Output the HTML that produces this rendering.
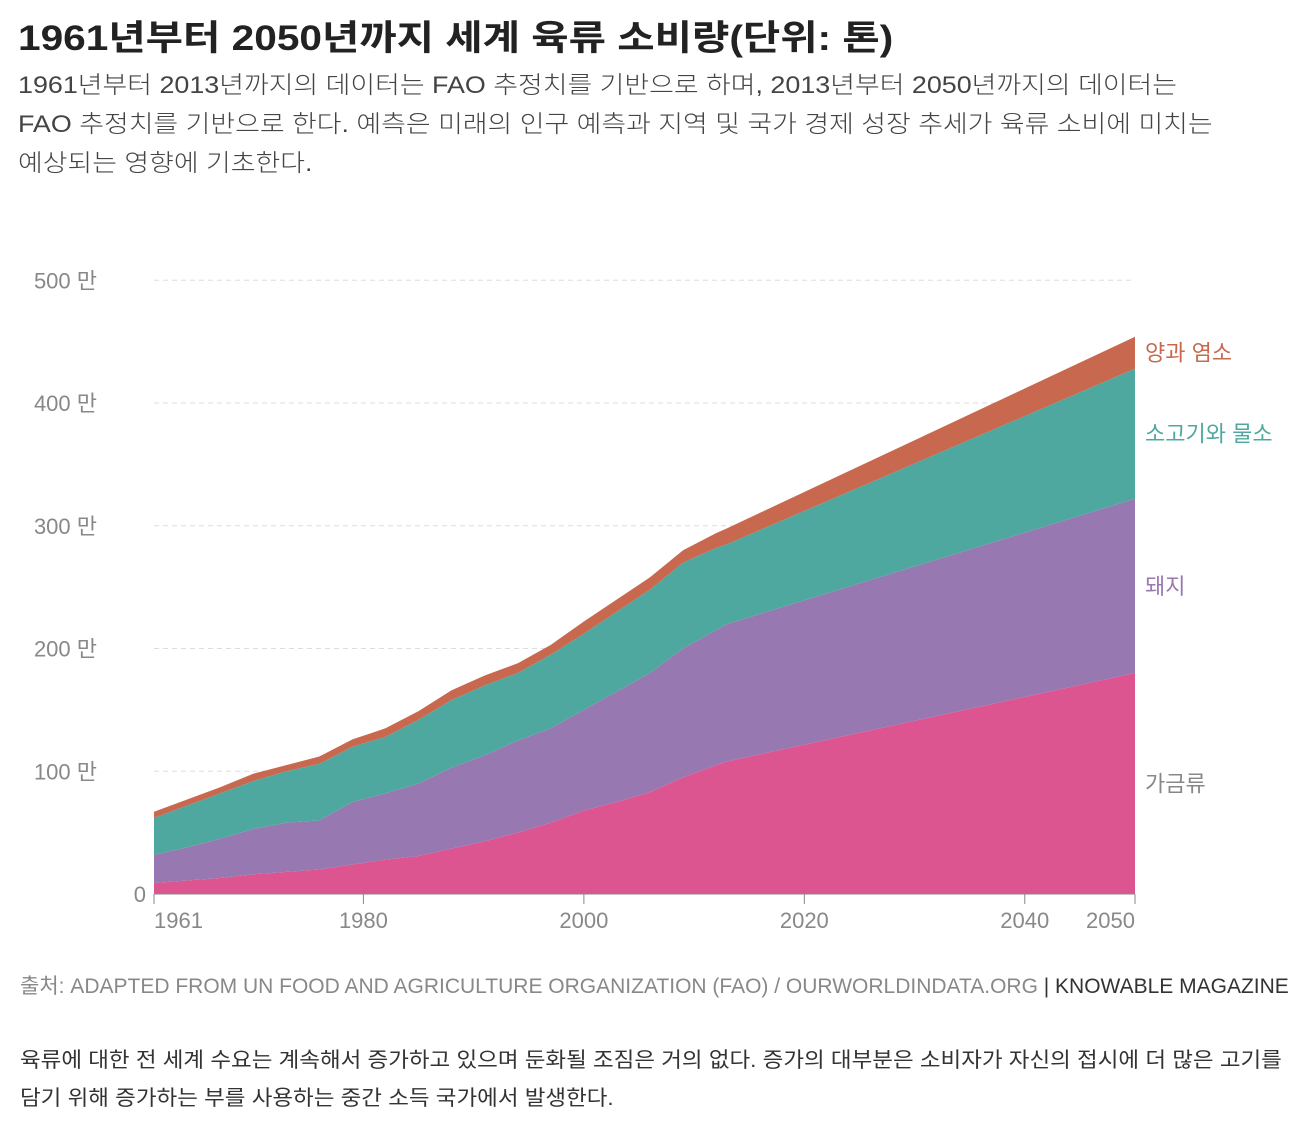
<!DOCTYPE html>
<html><head><meta charset="utf-8"><style>
body{margin:0;width:1308px;height:1126px;background:#fff;font-family:"Liberation Sans","Noto Sans CJK KR",sans-serif;overflow:hidden;position:relative}
.t{position:absolute;white-space:nowrap;transform-origin:0 0}
</style></head><body>
<div class="t" style="left:18px;top:10px;font-size:35px;font-weight:bold;color:#222;transform:scaleX(1.16)">1961년부터 2050년까지 세계 육류 소비량(단위: 톤)</div>
<div class="t" style="left:18px;top:66px;font-size:24px;line-height:39px;color:#444;font-weight:300;transform:scaleX(1.12)">1961년부터 2013년까지의 데이터는 FAO 추정치를 기반으로 하며, 2013년부터 2050년까지의 데이터는<br>FAO 추정치를 기반으로 한다. 예측은 미래의 인구 예측과 지역 및 국가 경제 성장 추세가 육류 소비에 미치는<br>예상되는 영향에 기초한다.</div>
<svg id="chart" width="1308" height="1126" style="position:absolute;left:0;top:0"></svg>
<div class="t" style="left:20px;top:970px;font-size:21px;color:#888">출처: ADAPTED FROM UN FOOD AND AGRICULTURE ORGANIZATION (FAO) / OURWORLDINDATA.ORG <span style="color:#333">| KNOWABLE MAGAZINE</span></div>
<div class="t" style="left:20px;top:1042px;font-size:21px;line-height:38px;color:#333;transform:scaleX(1.07)">육류에 대한 전 세계 수요는 계속해서 증가하고 있으며 둔화될 조짐은 거의 없다. 증가의 대부분은 소비자가 자신의 접시에 더 많은 고기를<br>담기 위해 증가하는 부를 사용하는 중간 소득 국가에서 발생한다.</div>
<script>
const years=[1961,1964,1967,1970,1973,1976,1979,1982,1985,1988,1991,1994,1997,2000,2003,2006,2009,2012,2013,2050];
const poultry=[9,11,13,16,18,20,24,28,31,37,43,50,58,68,75,83,95,105,108,180];
const pig=[23,27,32,37,40,40,51,54,59,66,70,75,77,82,90,97,105,110,112,142];
const beef=[30,34,37,39,42,46,45,46,52,55,57,55,60,62,65,68,70,67,65,106];
const sheep=[5,5,5,6,5,6,6,7,7,8,8,8,8,10,10,10,10,12,13,26];
const yTicks=[0,100,200,300,400,500];
const xTicks=[1961,1980,2000,2020,2040,2050];
const seriesNames=['가금류','돼지','소고기와 물소','양과 염소'];
const colors=['#dc5590','#9778b0','#4ea8a0','#c8694f'];
const labelColors=['#888','#9778b0','#4ea8a0','#c8694f'];
const svg=document.getElementById('chart'),NS='http://www.w3.org/2000/svg';
const x=v=>154+(v-1961)*(1135-154)/89, y=v=>894-v*1.2275;
function mk(t,a){const e=document.createElementNS(NS,t);for(const k in a)e.setAttribute(k,a[k]);svg.appendChild(e);return e;}
yTicks.forEach(v=>{
 if(v>0){const g=mk('line',{x1:154,x2:1135,y1:y(v),y2:y(v),stroke:'#ddd','stroke-dasharray':'5,4'});
 
 }
 const t=mk('text',{x:v?97:146,y:y(v)+8,'text-anchor':'end','font-size':22,fill:'#888','font-family':'Liberation Sans, Noto Sans CJK KR, sans-serif'});
 t.textContent=v?v+' 만':'0';
 
 
});
const layers=[poultry,pig,beef,sheep];
let base=years.map(()=>0);
layers.forEach((L,i)=>{
 const top=base.map((b,j)=>b+L[j]);
 let d='M'+years.map((yr,j)=>x(yr)+','+y(top[j])).join('L');
 d+='L'+years.map((yr,j)=>[yr,j]).reverse().map(([yr,j])=>x(yr)+','+y(base[j])).join('L')+'Z';
 const p=mk('path',{d:d,fill:colors[i]});
 
 
 const n=years.length-1;
 const t=mk('text',{x:1145,y:y((base[n]+top[n])/2)+8,'font-size':22,fill:labelColors[i],'font-family':'Liberation Sans, Noto Sans CJK KR, sans-serif'});
 if(i==3)t.setAttribute('y',y(top[n])+24);
 t.textContent=seriesNames[i];
 
 
 base=top;
});
const ax=mk('line',{x1:154,x2:1135,y1:894,y2:894,stroke:'#888'});


xTicks.forEach(v=>{
 const l=mk('line',{x1:x(v),x2:x(v),y1:894,y2:904,stroke:'#888'});
 
 
 const anchor=v==1961?'start':(v==2050?'end':'middle');
 const t=mk('text',{x:x(v),y:928,'text-anchor':anchor,'font-size':22,fill:'#888','font-family':'Liberation Sans, sans-serif'});
 t.textContent=v;
 
 
});
</script>
</body></html>
